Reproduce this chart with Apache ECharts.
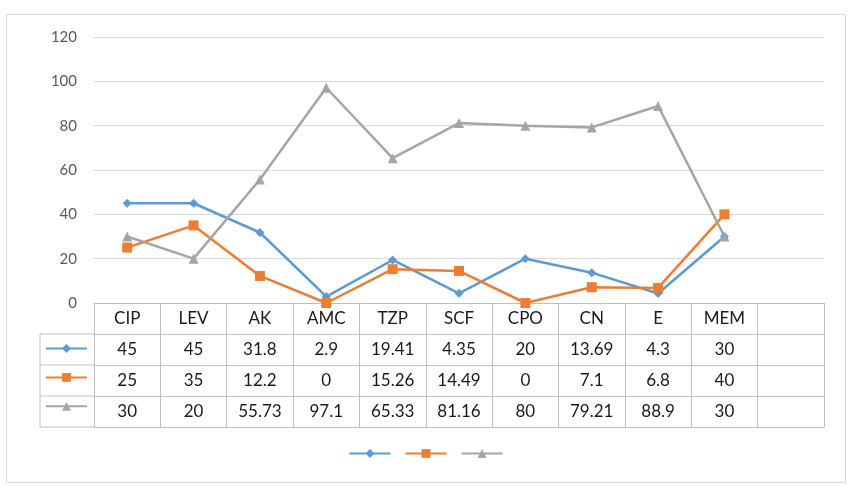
<!DOCTYPE html>
<html><head><meta charset="utf-8">
<script src="https://cdn.jsdelivr.net/npm/echarts@6/dist/echarts.min.js"></script>
<style>html,body{margin:0;padding:0;background:#fff}#c{width:852px;height:486px}</style>
</head><body><div id="c"></div>
<script>
const categories = ['CIP','LEV','AK','AMC','TZP','SCF','CPO','CN','E','MEM',''];
const series1 = [45,45,31.8,2.9,19.41,4.35,20,13.69,4.3,30];
const series2 = [25,35,12.2,0,15.26,14.49,0,7.1,6.8,40];
const series3 = [30,20,55.73,97.1,65.33,81.16,80,79.21,88.9,30];
const yTicks = {min:0, max:120, interval:20};

const colors = ['#5B9BD5','#ED7D31','#A5A5A5'];
const font = 'Lato, "Open Sans", sans-serif';
const L = 94, R = 824, T = 37, B = 303, ROW = 31, TL = 40;
const border = '#BFBFBF';
const tableFont = 17;

const chart = echarts.init(document.getElementById('c'));
const rows = [series1, series2, series3];
const rowAxes = rows.map((vals, k) => ({
  type:'category', gridIndex:0, position:'bottom', offset: ROW*(k+1),
  data: categories.map((c,i)=> i < vals.length ? String(vals[i]) : ''),
  axisLine:{show:true, lineStyle:{color:border, width:1}},
  axisTick:{show:false},
  axisLabel:{interval:0, margin:7, color:'#1a1a1a', fontSize:tableFont, fontFamily:font}
}));
rowAxes.push({
  type:'category', gridIndex:0, position:'bottom', offset: ROW*4,
  data: categories,
  axisLine:{show:true, lineStyle:{color:border, width:1}},
  axisTick:{show:false}, axisLabel:{show:false}
});

const hl = [];
for (let k=1;k<=4;k++) hl.push({type:'line', shape:{x1:TL,y1:B+ROW*k,x2:L,y2:B+ROW*k}, style:{stroke:border,lineWidth:1}});
hl.push({type:'line', shape:{x1:TL,y1:B+ROW,x2:TL,y2:B+ROW*4}, style:{stroke:border,lineWidth:1}});
hl.push({type:'rect', shape:{x:6.5,y:14.5,width:839,height:468}, style:{fill:null,stroke:'#D9D9D9',lineWidth:1}, z:-1});

const sym = ['diamond','rect','triangle'];
const symSize = [9,10,10];
chart.setOption({
  animation:false,
  color: colors,
  grid:{left:L, right:852-R, top:T, bottom:486-B},
  xAxis:[{
    type:'category', data:categories, boundaryGap:true,
    axisLine:{show:true, lineStyle:{color:border}},
    axisTick:{show:true, interval:0, length:ROW*4, lineStyle:{color:border}},
    axisLabel:{interval:0, margin:7, color:'#1a1a1a', fontSize:tableFont, fontFamily:font}
  }].concat(rowAxes),
  yAxis:{type:'value', min:yTicks.min, max:yTicks.max, interval:yTicks.interval,
    axisLine:{show:false}, axisTick:{show:false},
    splitLine:{lineStyle:{color:'#D9D9D9'}},
    axisLabel:{color:'#595959', fontSize:15, fontFamily:font, margin:17}},
  legend:[
    {data:['s1','s2','s3'], orient:'vertical', left:45, top:B+ROW+9, padding:0, itemWidth:41, itemHeight:11, itemGap:19,
     formatter:()=>'', textStyle:{fontSize:1}},
    {data:['s1','s2','s3'], orient:'horizontal', left:'center', top:448, padding:0, itemWidth:41, itemHeight:11, itemGap:13,
     formatter:()=>'', textStyle:{fontSize:1}}
  ],
  graphic: hl,
  series: rows.map((vals,k)=>({
    name:'s'+(k+1), type:'line', data:vals, symbol:sym[k], symbolSize:symSize[k],
    lineStyle:{width:2.5}, itemStyle:{color:colors[k]}
  }))
});
</script></body></html>
